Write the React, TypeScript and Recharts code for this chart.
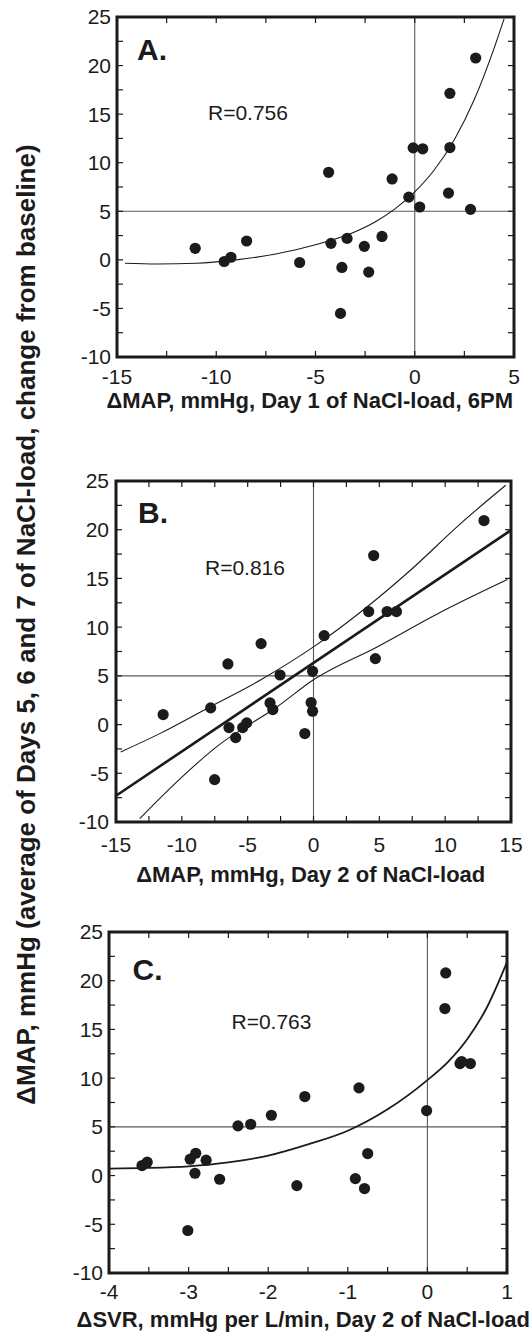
import React from 'react';
import { ComposedChart, Scatter, Line, XAxis, YAxis, ReferenceLine, ReferenceArea } from 'recharts';

const FONT = '"Liberation Sans", Arial, Helvetica, sans-serif';
const INK = '#1b1b1b';
const W = 531;

// shared y axis
const yDomain: [number, number] = [-10, 25];
const yTicks = [-10, -5, 0, 5, 10, 15, 20, 25];
const yMinorTicks = [-10, -7.5, -5, -2.5, 0, 2.5, 5, 7.5, 10, 12.5, 15, 17.5, 20, 22.5, 25];

// Panel A
const aXTicks = [-15, -10, -5, 0, 5];
const aXMinorTicks = [-15, -12.5, -10, -7.5, -5, -2.5, 0, 2.5, 5];
const aX = [-11.06, -9.6, -9.26, -8.47, -5.8, -4.34, -4.22, -3.41, -3.67, -3.74, -2.54, -2.32, -1.65, -1.14, -0.3, 0.25, 1.7, 2.81, -0.08, 0.4, 1.77, 1.77, 3.07];
const aY = [1.19, -0.17, 0.27, 1.94, -0.27, 9.01, 1.7, 2.21, -0.78, -5.51, 1.39, -1.26, 2.41, 8.33, 6.46, 5.44, 6.87, 5.2, 11.53, 11.43, 11.56, 17.14, 20.78];
const aCurveX = [-14.6, -13, -11, -9, -7, -5, -3, -2, -1, 0, 1, 2, 3, 4, 4.5];
const aCurveY = [-0.35, -0.42, -0.35, 0.0, 0.6, 1.55, 2.9, 3.9, 5.25, 7.0, 9.3, 12.4, 16.5, 21.8, 24.8];

// Panel B
const bXTicks = [-15, -10, -5, 0, 5, 10, 15];
const bXMinorTicks = [-15, -12.5, -10, -7.5, -5, -2.5, 0, 2.5, 5, 7.5, 10, 12.5, 15];
const bX = [-11.42, -7.81, -6.5, -6.42, -5.91, -5.38, -5.07, -3.98, -3.3, -3.09, -2.54, -7.51, -0.66, -0.18, -0.07, -0.07, 0.81, 4.19, 4.57, 4.7, 5.59, 6.3, 12.95];
const bY = [1.03, 1.71, 6.22, -0.31, -1.34, -0.31, 0.17, 8.31, 2.22, 1.54, 5.09, -5.65, -0.92, 2.26, 1.37, 5.47, 9.13, 11.6, 17.35, 6.77, 11.6, 11.6, 20.94];
const bFitX = [-15, 15];
const bFitY = [-7.3, 19.95];
const bUpperX = [-14.64, -11.68, -7.87, -4.06, 0, 4.06, 7.36, 11.17, 14.6];
const bUpperY = [-2.81, -0.93, 1.81, 4.55, 7.97, 12.07, 15.84, 20.63, 24.56];
const bLowerX = [-13.2, -10.4, -7, -5, -3, 0, 4.83, 9.9, 14.73];
const bLowerY = [-9.65, -5.9, -1.9, -0.1, 1.6, 4.6, 7.97, 11.7, 14.88];

// Panel C
const cXTicks = [-4, -3, -2, -1, 0, 1];
const cXMinorTicks = [-4, -3.5, -3, -2.5, -2, -1.5, -1, -0.5, 0, 0.5, 1];
const cX = [-3.585, -3.52, -2.98, -2.91, -2.92, -2.78, -3.01, -2.61, -2.38, -2.22, -1.96, -1.64, -1.54, -0.905, -0.86, -0.79, -0.75, -0.01, 0.22, 0.23, 0.41, 0.43, 0.54];
const cY = [1.03, 1.37, 1.68, 2.29, 0.24, 1.58, -5.64, -0.38, 5.1, 5.27, 6.19, -1.03, 8.11, -0.31, 9.0, -1.33, 2.26, 6.67, 17.14, 20.8, 11.5, 11.7, 11.5];
const cCurveX = [-4, -3.5, -3, -2.5, -2, -1.5, -1, -0.5, 0, 0.25, 0.5, 0.75, 1];
const cCurveY = [0.72, 0.78, 0.95, 1.35, 2.05, 3.2, 4.6, 6.8, 9.8, 11.6, 14.0, 17.3, 21.9];

const zip = (xs: number[], ys: number[]) => xs.map((x, i) => ({ x, y: ys[i] }));

const TICK_LEN = 6;
const tickStroke = { stroke: INK, strokeWidth: 1.2 };
const labelStyle = { fontSize: 21, fill: INK, fontFamily: FONT };

const Dot = (p: any) => <circle cx={p.cx} cy={p.cy} r={5.6} fill={INK} />;

// x tick: inward marks on bottom and top edges, label only on major values
const makeXTick = (majors: number[], plotTop: number, plotBottom: number) => (p: any) => {
  const v = p.payload.value;
  const x = p.x;
  return (
    <g>
      <line x1={x} x2={x} y1={plotBottom} y2={plotBottom - TICK_LEN} {...tickStroke} />
      <line x1={x} x2={x} y1={plotTop} y2={plotTop + TICK_LEN} {...tickStroke} />
      {majors.includes(v) && (
        <text x={x} y={p.y} dy="0.71em" textAnchor="middle" style={labelStyle}>
          {String(v)}
        </text>
      )}
    </g>
  );
};

// y tick: inward marks on left and right edges, label only on major values
const makeYTick = (majors: number[], plotLeft: number, plotRight: number) => (p: any) => {
  const v = p.payload.value;
  const y = p.y;
  return (
    <g>
      <line x1={plotLeft} x2={plotLeft + TICK_LEN} y1={y} y2={y} {...tickStroke} />
      <line x1={plotRight} x2={plotRight - TICK_LEN} y1={y} y2={y} {...tickStroke} />
      {majors.includes(v) && (
        <text x={p.x} y={y} dy="0.355em" textAnchor="end" style={labelStyle}>
          {String(v)}
        </text>
      )}
    </g>
  );
};

type LineSpec = { data: { x: number; y: number }[]; width: number };

function Panel(props: {
  top: number;
  height: number;
  plotLeft: number;
  plotRight: number;
  plotTop: number;
  plotBottom: number;
  xDomain: [number, number];
  xTicks: number[];
  xMinor: number[];
  xGap: number;
  yGap: number;
  points: { x: number; y: number }[];
  lines: LineSpec[];
}) {
  const { top, height, plotLeft, plotRight, plotTop, plotBottom, xDomain, xTicks, xMinor, xGap, yGap, points, lines } = props;
  return (
    <div style={{ position: 'absolute', left: 0, top, width: W, height }}>
      <ComposedChart width={W} height={height} margin={{ top: plotTop, right: W - plotRight, bottom: 0, left: 0 }}>
        <XAxis
          type="number"
          dataKey="x"
          domain={xDomain}
          ticks={xMinor}
          interval={0}
          allowDataOverflow
          axisLine={false}
          tickLine={false}
          tickSize={0}
          tickMargin={xGap}
          height={height - plotBottom}
          tick={makeXTick(xTicks, plotTop, plotBottom)}
        />
        <YAxis
          type="number"
          dataKey="y"
          domain={yDomain}
          ticks={yMinorTicks}
          interval={0}
          allowDataOverflow
          axisLine={false}
          tickLine={false}
          tickSize={0}
          tickMargin={yGap}
          width={plotLeft}
          tick={makeYTick(yTicks, plotLeft, plotRight)}
        />
        <ReferenceLine x={0} stroke="#5a5a5a" strokeWidth={1.1} />
        <ReferenceLine y={5} stroke="#5a5a5a" strokeWidth={1.1} />
        {lines.map((l, i) => (
          <Line
            key={i}
            data={l.data}
            dataKey="y"
            type="monotone"
            stroke={INK}
            strokeWidth={l.width}
            dot={false}
            activeDot={false}
            isAnimationActive={false}
          />
        ))}
        <Scatter data={points} dataKey="y" shape={Dot} isAnimationActive={false} />
        <ReferenceArea
          x1={xDomain[0]}
          x2={xDomain[1]}
          y1={yDomain[0]}
          y2={yDomain[1]}
          fill="none"
          fillOpacity={0}
          stroke={INK}
          strokeWidth={3}
          ifOverflow="visible"
        />
      </ComposedChart>
    </div>
  );
}

const panelLetter = { fontFamily: FONT, fontWeight: 700, fontSize: 30, fill: INK };
const rText = { fontFamily: FONT, fontSize: 21, fill: INK };
const titleText = { fontFamily: FONT, fontWeight: 700, fontSize: 22, fill: INK };

export default function App() {
  return (
    <div style={{ position: 'absolute', left: 0, top: 0, width: W, height: 1334, background: '#fff' }}>
      <Panel
        top={0}
        height={440}
        plotLeft={117}
        plotRight={514}
        plotTop={17}
        plotBottom={357}
        xDomain={[-15, 5]}
        xTicks={aXTicks}
        xMinor={aXMinorTicks}
        xGap={12}
        yGap={6}
        points={zip(aX, aY)}
        lines={[{ data: zip(aCurveX, aCurveY), width: 1.1 }]}
      />
      <Panel
        top={440}
        height={440}
        plotLeft={116}
        plotRight={511}
        plotTop={41}
        plotBottom={382}
        xDomain={[-15, 15]}
        xTicks={bXTicks}
        xMinor={bXMinorTicks}
        xGap={15}
        yGap={7}
        points={zip(bX, bY)}
        lines={[
          { data: zip(bFitX, bFitY), width: 2.6 },
          { data: zip(bUpperX, bUpperY), width: 1.1 },
          { data: zip(bLowerX, bLowerY), width: 1.1 },
        ]}
      />
      <Panel
        top={880}
        height={454}
        plotLeft={109}
        plotRight={507}
        plotTop={52}
        plotBottom={393}
        xDomain={[-4, 1]}
        xTicks={cXTicks}
        xMinor={cXMinorTicks}
        xGap={11}
        yGap={6}
        points={zip(cX, cY)}
        lines={[{ data: zip(cCurveX, cCurveY), width: 1.8 }]}
      />
      <svg width={W} height={1334} style={{ position: 'absolute', left: 0, top: 0, pointerEvents: 'none' }}>
        <text x={35} y={624.5} transform="rotate(-90 35 624.5)" textAnchor="middle" style={{ fontFamily: FONT, fontWeight: 700, fontSize: 26, fill: INK }}>
          ΔMAP, mmHg (average of Days 5, 6 and 7 of NaCl-load, change from baseline)
        </text>
        <text x={137} y={60} style={panelLetter}>A.</text>
        <text x={208} y={120} style={rText}>R=0.756</text>
        <text x={309.7} y={408} textAnchor="middle" style={titleText}>ΔMAP, mmHg, Day 1 of NaCl-load, 6PM</text>

        <text x={138} y={523.3} style={panelLetter}>B.</text>
        <text x={205} y={575} style={rText}>R=0.816</text>
        <text x={310.7} y={882} textAnchor="middle" style={titleText}>ΔMAP, mmHg, Day 2 of NaCl-load</text>

        <text x={132.5} y={979.5} style={panelLetter}>C.</text>
        <text x={231.5} y={1029.3} style={rText}>R=0.763</text>
        <text x={303.3} y={1327} textAnchor="middle" style={titleText}>ΔSVR, mmHg per L/min, Day 2 of NaCl-load</text>
      </svg>
    </div>
  );
}
